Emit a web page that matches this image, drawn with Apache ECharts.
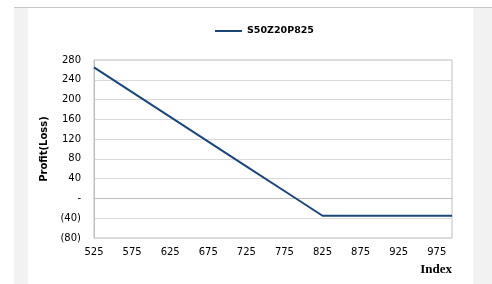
<!DOCTYPE html>
<html>
<head>
<meta charset="utf-8">
<script src="https://cdn.jsdelivr.net/npm/echarts@6/dist/echarts.min.js"></script>
<style>
html,body{margin:0;padding:0;background:#fff;}
#c{width:492px;height:284px;}
</style>
</head>
<body>
<div id="c"></div>
<script>
const seriesName = 'S50Z20P825';
const indexValues = [525, 575, 625, 675, 725, 775, 825, 875, 925, 975, 995];
const profitValues = [265, 215, 165, 115, 65, 15, -35, -35, -35, -35, -35];
const yTickLabels = {'-80':'(80)','-40':'(40)','0':'-','40':'40','80':'80','120':'120','160':'160','200':'200','240':'240','280':'280'};

const chart = echarts.init(document.getElementById('c'), null, {renderer:'canvas'});
const data = indexValues.map((x, i) => [x, profitValues[i]]);
chart.setOption({
  animation: false,
  backgroundColor: '#ffffff',
  graphic: [
    {type:'rect', z:-10, silent:true, shape:{x:14, y:7, width:478, height:277}, style:{fill:'#f2f2f2'}},
    {type:'line', z:-9, silent:true, shape:{x1:14, y1:7.5, x2:492, y2:7.5}, style:{stroke:'#c6c6c6', lineWidth:1}},
    {type:'rect', z:-8, silent:true, shape:{x:28, y:8, width:445, height:276}, style:{fill:'#ffffff'}}
  ],
  legend: {
    top: 21, left: 210,
    itemWidth: 27, itemHeight: 10, itemGap: 4,
    icon: 'path://M0,4 L27,4 L27,6 L0,6 Z',
    textStyle: {fontFamily:'DejaVu Sans', fontWeight:'bold', fontSize:9.5, color:'#000'},
    data: [{name: seriesName}]
  },
  title: {
    text: 'Index', right: 40, bottom: 8, padding: 0,
    textStyle: {fontFamily:'Liberation Serif', fontWeight:'bold', fontSize:13, color:'#000'}
  },
  grid: {left: 94, right: 40, top: 60, bottom: 46, show: true, borderColor: '#bfbfbf', borderWidth: 1, backgroundColor:'transparent'},
  xAxis: {
    type: 'value', min: 525, max: 995, interval: 50,
    axisLine: {show: true, lineStyle: {color: '#bfbfbf'}},
    axisTick: {show: false},
    splitLine: {show: false},
    axisLabel: {showMaxLabel: false, margin: 9, fontFamily:'DejaVu Sans', fontSize:10, color:'#000'}
  },
  yAxis: {
    type: 'value', min: -80, max: 280, interval: 40,
    name: 'Profit(Loss)', nameLocation: 'middle', nameGap: 42,
    nameTextStyle: {fontFamily:'DejaVu Sans', fontWeight:'bold', fontSize:10, color:'#000'},
    axisLine: {show: true, lineStyle: {color: '#bfbfbf'}},
    axisTick: {show: false},
    splitLine: {show: true, lineStyle: {color: '#d9d9d9', width: 1}},
    axisLabel: {margin: 13, fontFamily:'DejaVu Sans', fontSize:10, color:'#000', formatter: v => yTickLabels[String(v)]}
  },
  series: [{
    name: seriesName, type: 'line', data: data,
    showSymbol: false, symbol: 'none',
    lineStyle: {color: '#1c4679', width: 2},
    itemStyle: {color: '#1c4679'}
  }]
});
</script>
</body>
</html>
